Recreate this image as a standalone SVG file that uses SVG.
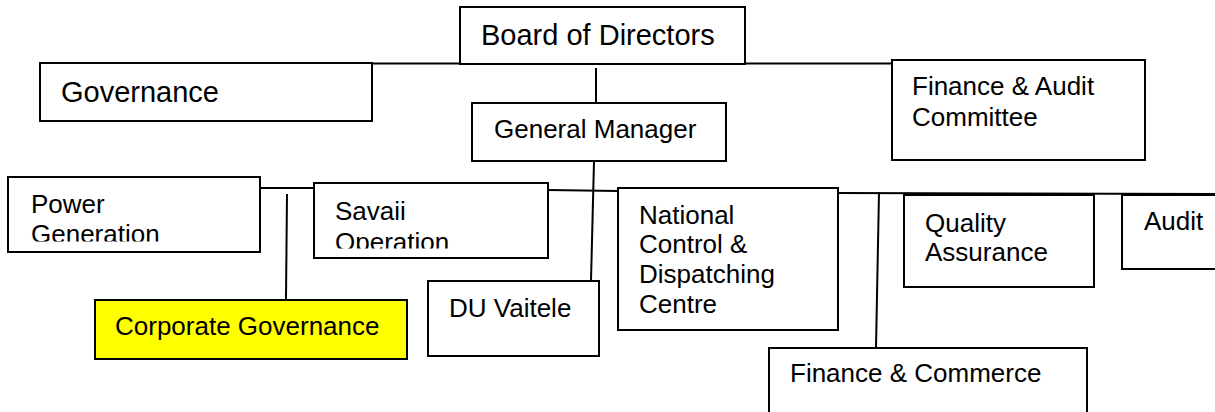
<svg xmlns="http://www.w3.org/2000/svg" width="1215" height="412" viewBox="0 0 1215 412">
  <style>
    .box { fill: #ffffff; stroke: #000000; stroke-width: 2; }
    .yel { fill: #ffff00; stroke: #000000; stroke-width: 2; }
    .lbl { font-family: "Liberation Sans", Arial, sans-serif; font-size: 26px; fill: #000000; }
    .big { font-size: 29px; }
    .con { stroke: #000000; stroke-width: 2; fill: none; }
  </style>
  <defs>
    <clipPath id="clipPG"><rect x="8" y="177" width="252" height="64.5"/></clipPath>
    <clipPath id="clipSV"><rect x="314" y="183" width="234" height="65.5"/></clipPath>
  </defs>
  <rect width="1215" height="412" fill="#ffffff"/>

  <g id="connectors">
    <line class="con" x1="372" y1="63.5" x2="892" y2="63.5"/>
    <line class="con" x1="596" y1="68" x2="596" y2="103"/>
    <line class="con" x1="594" y1="161" x2="591" y2="281"/>
    <line class="con" x1="260" y1="188" x2="314" y2="188"/>
    <line class="con" x1="548" y1="190" x2="618" y2="191"/>
    <line class="con" x1="838" y1="193" x2="1215" y2="194"/>
    <line class="con" x1="287" y1="194" x2="286" y2="299"/>
    <line class="con" x1="879" y1="192" x2="876" y2="348"/>
  </g>

  <g id="board">
    <rect class="box" x="460" y="7" width="285" height="57"/>
    <text class="lbl big" x="481" y="45">Board of Directors</text>
  </g>
  <g id="governance">
    <rect class="box" x="40" y="63" width="332" height="58"/>
    <text class="lbl big" x="61" y="102">Governance</text>
  </g>
  <g id="finance-audit">
    <rect class="box" x="892" y="60" width="253" height="100"/>
    <text class="lbl" x="912" y="95">Finance &amp; Audit</text>
    <text class="lbl" x="912" y="126">Committee</text>
  </g>
  <g id="general-manager">
    <rect class="box" x="472" y="103" width="254" height="58"/>
    <text class="lbl" x="494" y="138">General Manager</text>
  </g>
  <g id="power-generation">
    <rect class="box" x="8" y="177" width="252" height="75"/>
    <g clip-path="url(#clipPG)">
      <text class="lbl" x="31" y="213">Power</text>
      <text class="lbl" x="31" y="243">Generation</text>
    </g>
  </g>
  <g id="savaii">
    <rect class="box" x="314" y="183" width="234" height="75"/>
    <g clip-path="url(#clipSV)">
      <text class="lbl" x="335" y="220">Savaii</text>
      <text class="lbl" x="335" y="251">Operation</text>
    </g>
  </g>
  <g id="ncdc">
    <rect class="box" x="618" y="188" width="220" height="142"/>
    <text class="lbl" x="639" y="224">National</text>
    <text class="lbl" x="639" y="253">Control &amp;</text>
    <text class="lbl" x="639" y="283">Dispatching</text>
    <text class="lbl" x="639" y="313">Centre</text>
  </g>
  <g id="quality-assurance">
    <rect class="box" x="904" y="195" width="190" height="92"/>
    <text class="lbl" x="925" y="232">Quality</text>
    <text class="lbl" x="925" y="261">Assurance</text>
  </g>
  <g id="audit">
    <rect class="box" x="1122" y="195" width="100" height="74"/>
    <text class="lbl" x="1144" y="230">Audit</text>
  </g>
  <g id="corporate-governance">
    <rect class="yel" x="95" y="300" width="312" height="59"/>
    <text class="lbl" x="115" y="335">Corporate Governance</text>
  </g>
  <g id="du-vaitele">
    <rect class="box" x="428" y="281" width="171" height="75"/>
    <text class="lbl" x="449" y="317">DU Vaitele</text>
  </g>
  <g id="finance-commerce">
    <rect class="box" x="769" y="348" width="318" height="72"/>
    <text class="lbl" x="790" y="382">Finance &amp; Commerce</text>
  </g>
</svg>
